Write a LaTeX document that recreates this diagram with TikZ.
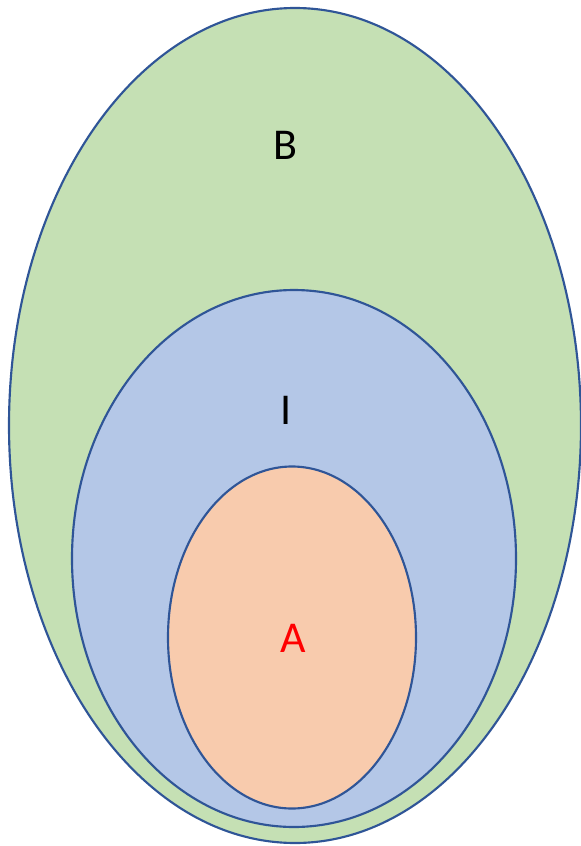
\documentclass[tikz,border=0pt]{standalone}
\usepackage{fontspec}
\setmainfont{Carlito}
\definecolor{bgreen}{HTML}{C5E0B4}
\definecolor{iblue}{HTML}{B4C7E7}
\definecolor{aorange}{HTML}{F8CBAD}
\definecolor{edge}{HTML}{2F5597}
\begin{document}
\begin{tikzpicture}[x=0.75pt,y=-0.75pt,
  setshape/.style={draw=edge,line width=1.6pt},
  setlabel/.style={font=\fontsize{33}{40}\selectfont,inner sep=0pt}]
\useasboundingbox (0,0) rectangle (581,846);
\path[setshape,fill=bgreen] (295,425.5) ellipse [x radius=286, y radius=417.5];
\path[setshape,fill=iblue] (294,558.5) ellipse [x radius=222, y radius=268.5];
\path[setshape,fill=aorange] (292,637.5) ellipse [x radius=124, y radius=171];
\node[setlabel] (B) at (285,145) {B};
\node[setlabel] (I) at (286,410) {I};
\node[setlabel,text=red] (A) at (293,638) {A};
\end{tikzpicture}
\end{document}
